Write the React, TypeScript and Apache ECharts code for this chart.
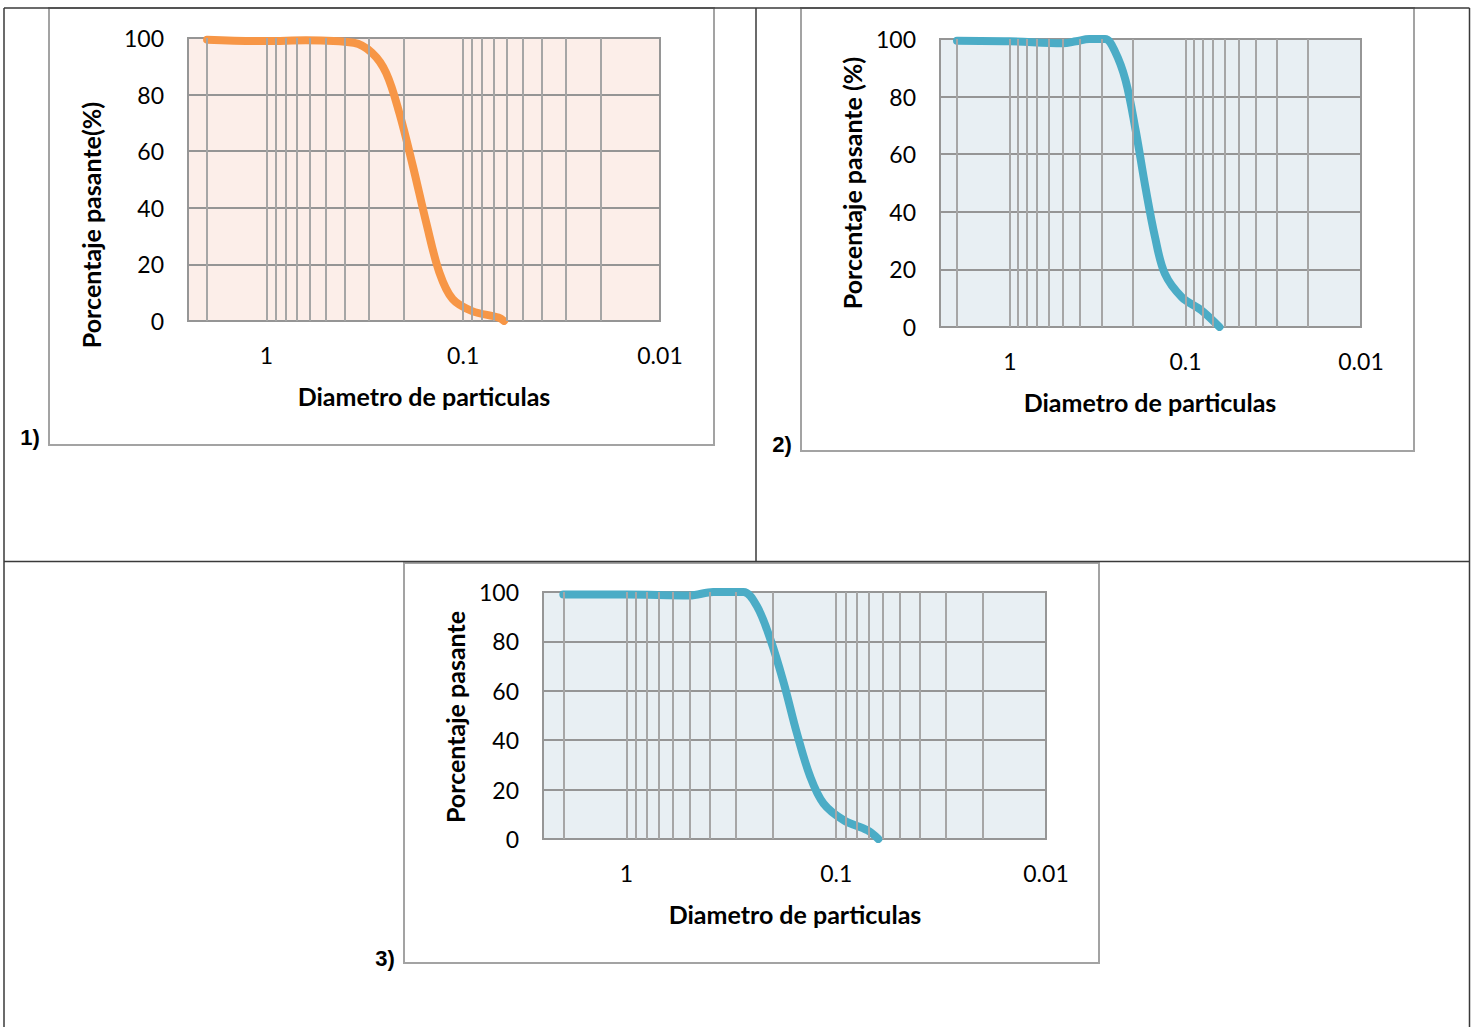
import React, { useEffect, useRef } from "react";
import * as echarts from "echarts";

// ---- data ----
const xTickLabels = ["1", "0.1", "0.01"];
const xGridValues = [2, 1, 0.9, 0.8, 0.7, 0.6, 0.5, 0.4, 0.3, 0.2, 0.1, 0.09, 0.08, 0.07, 0.06, 0.05, 0.04, 0.03, 0.02];

const chart1Diameter = [2.0, 1.0, 0.63, 0.36, 0.29, 0.246, 0.211, 0.18, 0.154, 0.132, 0.113, 0.09, 0.066, 0.062];
const chart1Passing = [99.4, 98.9, 99.2, 98.3, 94.7, 87.6, 73.5, 54.7, 34.7, 17.1, 7.7, 3.5, 1.2, 0];

const chart2Diameter = [2.0, 1.0, 0.5, 0.42, 0.353, 0.287, 0.253, 0.219, 0.192, 0.169, 0.149, 0.131, 0.105, 0.081, 0.064];
const chart2Passing = [99.4, 99.2, 98.5, 99.2, 100, 100, 95.9, 85.5, 68.2, 48.5, 31.2, 18.5, 10.4, 5.8, 0];

const chart3Diameter = [2.0, 1.0, 0.5, 0.386, 0.277, 0.239, 0.206, 0.178, 0.154, 0.133, 0.115, 0.092, 0.071, 0.063];
const chart3Passing = [99, 99, 98.6, 100, 100, 94.3, 80.8, 63.2, 42.8, 25.2, 14.4, 7.6, 3.5, 0];

const xTitle = "Diametro de particulas";
const yTitles = ["Porcentaje pasante(%)", "Porcentaje pasante (%)", "Porcentaje pasante"];
const panelLabels = ["1)", "2)", "3)"];

// ---- layout / styles ----
const FONT = "Lato, 'Open Sans', sans-serif";
const grids = [
  { left: 188, top: 38, width: 472, height: 283 },
  { left: 940, top: 39, width: 421, height: 288 },
  { left: 543, top: 592, width: 503, height: 247 },
];
const frames = [
  { x: 49, y: 8, w: 665, h: 437 },
  { x: 801, y: 8, w: 613, h: 443 },
  { x: 404, y: 563, w: 695, h: 400 },
];
const bgColors = ["#FCEEE9", "#E8EFF3", "#E8EFF3"];
const lineColors = ["#F79646", "#4BACC6", "#4BACC6"];
const xTitlePos = [[424, 396], [1150, 402], [795, 914]];
const yTitlePos = [[91, 225], [852, 183], [455, 717]];
const labelPos = [[30, 437], [782, 444], [385, 958]];

export default function App() {
  const ref = useRef<HTMLDivElement>(null);
  useEffect(() => {
    if (!ref.current) return;
    const chart = echarts.init(ref.current, undefined, { renderer: "svg" });
    const seriesData = [
      chart1Diameter.map((d, i) => [d, chart1Passing[i]]),
      chart2Diameter.map((d, i) => [d, chart2Passing[i]]),
      chart3Diameter.map((d, i) => [d, chart3Passing[i]]),
    ];
    const fmt = (v: number) => {
      const l = xTickLabels.find((t) => Math.abs(Math.log10(+t) - Math.log10(v)) < 1e-6);
      return l ?? "";
    };
    const graphic: any[] = [];
    // table lines
    const tl = { stroke: "#3a3a3a", lineWidth: 1.5 };
    graphic.push({ type: "line", shape: { x1: 4, y1: 8, x2: 1469.5, y2: 8 }, style: tl, z: 100 });
    graphic.push({ type: "line", shape: { x1: 4, y1: 8, x2: 4, y2: 1030 }, style: tl, z: 100 });
    graphic.push({ type: "line", shape: { x1: 1469.5, y1: 8, x2: 1469.5, y2: 1030 }, style: tl, z: 100 });
    graphic.push({ type: "line", shape: { x1: 756, y1: 8, x2: 756, y2: 561.5 }, style: tl, z: 100 });
    graphic.push({ type: "line", shape: { x1: 4, y1: 561.5, x2: 1469.5, y2: 561.5 }, style: tl, z: 100 });
    frames.forEach((f) => {
      graphic.push({
        type: "rect",
        shape: { x: f.x, y: f.y, width: f.w, height: f.h },
        style: { fill: "none", stroke: "#a3a3a3", lineWidth: 2 },
        z: 99,
      });
    });
    for (let i = 0; i < 3; i++) {
      graphic.push({
        type: "text",
        x: xTitlePos[i][0],
        y: xTitlePos[i][1],
        style: { text: xTitle, font: `bold 25px ${FONT}`, fill: "#000", align: "center", verticalAlign: "middle" },
      });
      graphic.push({
        type: "text",
        x: yTitlePos[i][0],
        y: yTitlePos[i][1],
        rotation: Math.PI / 2,
        style: { text: yTitles[i], font: `bold 25px ${FONT}`, fill: "#000", align: "center", verticalAlign: "middle" },
      });
      graphic.push({
        type: "text",
        x: labelPos[i][0],
        y: labelPos[i][1],
        style: { text: panelLabels[i], font: "bold 22px 'Liberation Sans', Arial, sans-serif", fill: "#000", align: "center", verticalAlign: "middle" },
      });
    }

    const series: any[] = [];
    for (let i = 0; i < 3; i++) {
      series.push({
        type: "line",
        xAxisIndex: i,
        yAxisIndex: i,
        data: [],
        z: 1,
        silent: true,
        markLine: {
          silent: true,
          symbol: ["none", "none"],
          label: { show: false },
          lineStyle: { color: "#a6a6a6", width: 2, type: "solid" },
          data: xGridValues.map((v) => ({ xAxis: v })),
        },
      });
      series.push({
        type: "line",
        xAxisIndex: i,
        yAxisIndex: i,
        data: seriesData[i],
        smooth: 0.35,
        symbol: "none",
        clip: true,
        z: 3,
        lineStyle: { color: lineColors[i], width: 8, cap: "round" },
      });
    }

    chart.setOption({
      animation: false,
      graphic,
      grid: grids.map((g, i) => ({
        ...g,
        show: true,
        backgroundColor: bgColors[i],
        borderColor: "#969696",
        borderWidth: 2,
        containLabel: false,
      })),
      xAxis: grids.map((_, i) => ({
        type: "log",
        logBase: 10,
        gridIndex: i,
        min: 0.01,
        max: 2.5,
        inverse: true,
        axisLine: { show: false },
        axisTick: { show: false },
        splitLine: { show: false },
        axisLabel: {
          formatter: fmt,
          fontSize: 23,
          fontFamily: FONT,
          color: "#000",
          margin: 22,
          showMaxLabel: false,
          showMinLabel: true,
        },
      })),
      yAxis: grids.map((_, i) => ({
        type: "value",
        gridIndex: i,
        min: 0,
        max: 100,
        interval: 20,
        axisLine: { show: false },
        axisTick: { show: false },
        splitLine: { show: true, lineStyle: { color: "#959595", width: 2 } },
        axisLabel: { fontSize: 23, fontFamily: FONT, color: "#000", margin: 24 },
      })),
      series,
    });
    return () => chart.dispose();
  }, []);
  return (
    <div
      ref={ref}
      style={{ position: "fixed", left: 0, top: 0, width: 1475, height: 1027, background: "#fff" }}
    />
  );
}
